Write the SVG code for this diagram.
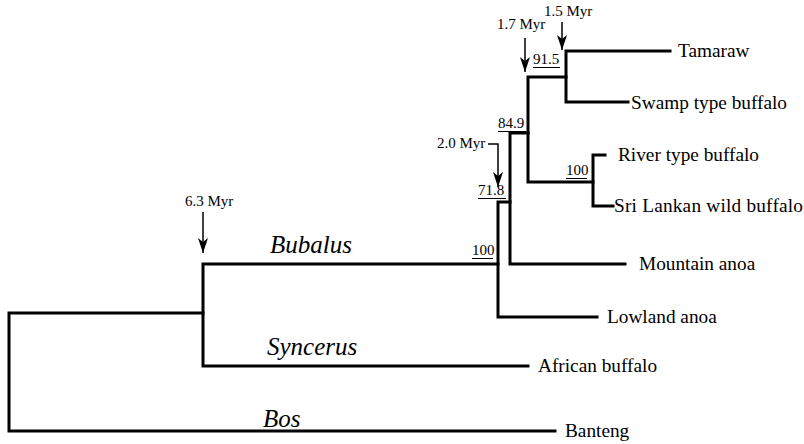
<svg xmlns="http://www.w3.org/2000/svg" width="804" height="444" viewBox="0 0 804 444">
<defs>
<marker id="ah" markerUnits="userSpaceOnUse" markerWidth="16" markerHeight="12" refX="15" refY="5" orient="auto">
<path d="M0,0 L15,5 L0,10 L4,5 Z" fill="#000"/>
</marker>
<style>
.br{fill:none;stroke:#000;stroke-width:3;stroke-linecap:square;stroke-linejoin:miter}
.ar{fill:none;stroke:#000;stroke-width:1.5}
.ul{stroke:#000;stroke-width:1}
.leaf{font-size:19.3px}
.myr{font-size:15px}
.bs{font-size:15px}
.clade{font-size:25px;font-style:italic}
</style>
</defs>
<rect width="804" height="444" fill="#fff"/>
<g id="connectors">
<path class="br" d="M9,313 H203 M9,313 V431 H555"/>
<path class="br" d="M203,264 V366 M203,264 H498 M203,366 H528"/>
<path class="br" d="M498,202 V317 H597 M498,202 H510"/>
<path class="br" d="M510,133 V264 H625 M510,133 H528"/>
<path class="br" d="M528,77 V182 M528,77 H566 M528,182 H593"/>
<path class="br" d="M566,51 V102 M566,51 H670 M566,102 H628"/>
<path class="br" d="M593,155 V206 M593,155 H605 M593,206 H613"/>
<path class="ar" d="M203,212 V253" marker-end="url(#ah)"/>
<path class="ar" d="M525,38 V72" marker-end="url(#ah)"/>
<path class="ar" d="M562,22 V50" marker-end="url(#ah)"/>
<path class="ar" d="M488,144 H498 V187" marker-end="url(#ah)"/>
</g>
<g font-family="Liberation Serif, DejaVu Serif, serif" fill="#000">
<g id="leaf-tamaraw"><text class="leaf" x="678" y="57">Tamaraw</text></g>
<g id="leaf-swamp"><text class="leaf" x="631" y="109">Swamp type buffalo</text></g>
<g id="leaf-river"><text class="leaf" x="618" y="161">River type buffalo</text></g>
<g id="leaf-srilankan"><text class="leaf" x="614" y="212" textLength="189">Sri Lankan wild buffalo</text></g>
<g id="leaf-mountain"><text class="leaf" x="639" y="270">Mountain anoa</text></g>
<g id="leaf-lowland"><text class="leaf" x="607" y="323">Lowland anoa</text></g>
<g id="leaf-african"><text class="leaf" x="538" y="372">African buffalo</text></g>
<g id="leaf-banteng"><text class="leaf" x="565" y="437">Banteng</text></g>
<g id="clade-bubalus"><text class="clade" x="270" y="253">Bubalus</text></g>
<g id="clade-syncerus"><text class="clade" x="267" y="355">Syncerus</text></g>
<g id="clade-bos"><text class="clade" x="263" y="427">Bos</text></g>
<g id="time-63"><text class="myr" x="185" y="206">6.3 Myr</text></g>
<g id="time-20"><text class="myr" x="437" y="148">2.0 Myr</text></g>
<g id="time-17"><text class="myr" x="497" y="29">1.7 Myr</text></g>
<g id="time-15"><text class="myr" x="544" y="16">1.5 Myr</text></g>
<g id="bs-100a"><text class="bs" x="472" y="255" font-size="14">100</text><line class="ul" x1="472" y1="258.5" x2="493" y2="258.5"/></g>
<g id="bs-718"><text class="bs" x="478" y="195">71.8</text><line class="ul" x1="478" y1="198.5" x2="506" y2="198.5"/></g>
<g id="bs-849"><text class="bs" x="498" y="128">84.9</text><line class="ul" x1="498" y1="131.5" x2="526" y2="131.5"/></g>
<g id="bs-915"><text class="bs" x="533" y="64">91.5</text><line class="ul" x1="533" y1="67.5" x2="560" y2="67.5"/></g>
<g id="bs-100b"><text class="bs" x="566" y="175" font-size="14">100</text><line class="ul" x1="566" y1="178.5" x2="587" y2="178.5"/></g>
</g>
</svg>
